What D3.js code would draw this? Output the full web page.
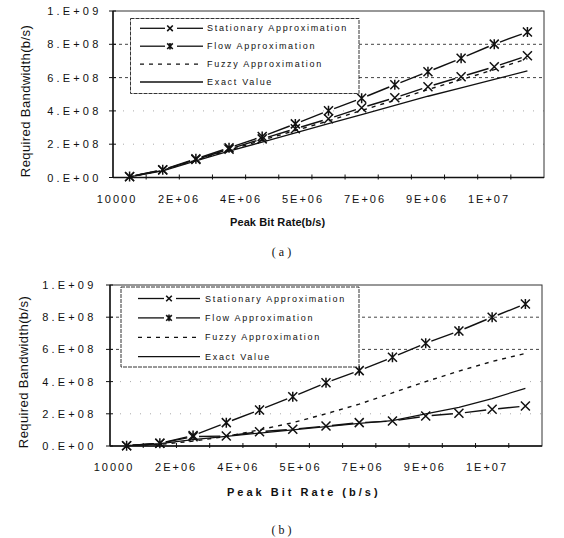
<!DOCTYPE html>
<html><head><meta charset="utf-8">
<script src="https://cdn.jsdelivr.net/npm/d3@7"></script>
<style>body{margin:0;background:#fff}</style>
</head><body>
<svg id="chart" width="564" height="538"></svg>
<script>
// ---- data ----
const categories = [1, 2, 3, 4, 5, 6, 7, 8, 9, 10, 11, 12, 13];
const xTickLabels = ["10000", "2E+06", "4E+06", "5E+06", "7E+06", "9E+06", "1E+07"];
const yTickValues = [0, 2e8, 4e8, 6e8, 8e8, 1e9];
const yTickLabels = ["0.E+00", "2.E+08", "4.E+08", "6.E+08", "8.E+08", "1.E+09"];
const seriesNames = ["Stationary Approximation", "Flow Approximation", "Fuzzy Approximation", "Exact Value"];

// panel (a)
const stationaryA = [5e6, 4.5e7, 1.08e8, 1.70e8, 2.32e8, 2.93e8, 3.53e8, 4.19e8, 4.79e8, 5.45e8, 6.05e8, 6.65e8, 7.31e8];
const flowA       = [6e6, 4.6e7, 1.12e8, 1.78e8, 2.46e8, 3.22e8, 4.01e8, 4.76e8, 5.57e8, 6.35e8, 7.16e8, 8.01e8, 8.74e8];
const fuzzyA      = [5e6, 4.3e7, 1.04e8, 1.64e8, 2.24e8, 2.82e8, 3.40e8, 4.03e8, 4.64e8, 5.28e8, 5.88e8, 6.48e8, 7.14e8];
const exactA      = [4e6, 4.0e7, 1.00e8, 1.58e8, 2.13e8, 2.68e8, 3.23e8, 3.78e8, 4.33e8, 4.88e8, 5.38e8, 5.90e8, 6.40e8];
// panel (b)
const stationaryB = [2e6, 1.7e7, 5.8e7, 6.2e7, 8.9e7, 1.04e8, 1.24e8, 1.45e8, 1.55e8, 1.86e8, 2.03e8, 2.28e8, 2.48e8];
const flowB       = [2e6, 1.7e7, 6.5e7, 1.45e8, 2.24e8, 3.06e8, 3.93e8, 4.68e8, 5.51e8, 6.38e8, 7.14e8, 8.00e8, 8.82e8];
const fuzzyB      = [2e6, 1.0e7, 3.0e7, 6.0e7, 1.00e8, 1.45e8, 2.00e8, 2.60e8, 3.30e8, 4.00e8, 4.65e8, 5.25e8, 5.75e8];
const exactB      = [2e6, 1.5e7, 4.0e7, 6.0e7, 8.0e7, 1.00e8, 1.20e8, 1.40e8, 1.58e8, 2.00e8, 2.40e8, 2.95e8, 3.58e8];

// ---- drawing ----
const svg = d3.select("#chart");
const FONT = "'Liberation Sans', Arial, sans-serif";
const INK = "#111";

const panels = [
  { left: 113, right: 544, top: 11, bottom: 177.5,
    yLabelX: 101.5, yTitleX: 25, yTitleY: 101,
    xTickY: 198.5, xTitle: "Peak Bit Rate(b/s)", xTitleX: 230, xTitleY: 222, xTitleLS: 0.1,
    caption: "(a)", captionY: 252,
    series: [stationaryA, flowA, fuzzyA, exactA],
    legend: { x0: 130.5, y0: 18.5, x1: 359, y1: 93.5, r0: 28.3, r1: 82, lx0: 140, lx1: 203, mx: 170, tx: 207 } },
  { left: 110, right: 542, top: 285, bottom: 446,
    yLabelX: 96.5, yTitleX: 23, yTitleY: 372,
    xTickY: 467, xTitle: "Peak Bit Rate (b/s)", xTitleX: 227, xTitleY: 492, xTitleLS: 3.0,
    caption: "(b)", captionY: 530,
    series: [stationaryB, flowB, fuzzyB, exactB],
    legend: { x0: 121, y0: 287, x1: 359, y1: 367, r0: 298.5, r1: 356.7, lx0: 138, lx1: 200, mx: 169, tx: 205 } }
];

function drawX(g, x, y, h, sw) {
  g.append("path").attr("d", `M${x-h},${y-h}L${x+h},${y+h}M${x-h},${y+h}L${x+h},${y-h}`)
    .attr("stroke", INK).attr("stroke-width", sw).attr("fill", "none");
}
function drawStar(g, x, y, h, sw) {
  g.append("path").attr("d", `M${x-h},${y-h}L${x+h},${y+h}M${x-h},${y+h}L${x+h},${y-h}M${x},${y-h-0.5}L${x},${y+h+0.5}`)
    .attr("stroke", INK).attr("stroke-width", sw).attr("fill", "none");
}
const markerFns = [drawX, drawStar, null, null];

panels.forEach(p => {
  const g = svg.append("g");
  const x = d3.scaleBand().domain(categories).range([p.left, p.right]);
  const xc = d => x(d) + x.bandwidth() / 2;
  const y = d3.scaleLinear().domain([0, 1e9]).range([p.bottom, p.top]);
  const xLab = d3.scalePoint().domain(xTickLabels).range([p.left + 4, p.right - 55]);

  // gridlines
  yTickValues.filter(v => v > 0 && v < 1e9).forEach(v => {
    const strong = v >= 6e8;
    g.append("line").attr("x1", p.left).attr("x2", p.right).attr("y1", y(v)).attr("y2", y(v))
      .attr("stroke", strong ? "#444" : "#aaa").attr("stroke-width", 1)
      .attr("stroke-dasharray", strong ? "3,3" : "1,9");
  });

  // frame
  g.append("rect").attr("x", p.left).attr("y", p.top).attr("width", p.right - p.left).attr("height", p.bottom - p.top)
    .attr("fill", "none").attr("stroke", "#333").attr("stroke-width", 1);
  g.append("line").attr("x1", p.left).attr("x2", p.left).attr("y1", p.top).attr("y2", p.bottom).attr("stroke", INK).attr("stroke-width", 1.4);
  g.append("line").attr("x1", p.left).attr("x2", p.right).attr("y1", p.bottom).attr("y2", p.bottom).attr("stroke", INK).attr("stroke-width", 1.4);

  // y ticks & labels
  yTickValues.forEach((v, i) => {
    g.append("line").attr("x1", p.left - 4).attr("x2", p.left + 3).attr("y1", y(v)).attr("y2", y(v))
      .attr("stroke", INK).attr("stroke-width", 1);
    g.append("text").attr("x", p.yLabelX).attr("y", y(v)).attr("text-anchor", "end")
      .attr("dominant-baseline", "central").attr("font-family", FONT).attr("font-size", 11)
      .attr("letter-spacing", 3.2).attr("fill", INK).text(yTickLabels[i]);
  });
  // x ticks at category boundaries
  categories.forEach(c => {
    const bx = x(c);
    if (bx > p.left + 1) {
      g.append("line").attr("x1", bx).attr("x2", bx).attr("y1", p.bottom - 3).attr("y2", p.bottom + 2)
        .attr("stroke", INK).attr("stroke-width", 1);
    }
  });
  xTickLabels.forEach(l => {
    g.append("text").attr("x", xLab(l)).attr("y", p.xTickY).attr("text-anchor", "middle")
      .attr("dominant-baseline", "central").attr("font-family", FONT).attr("font-size", 11)
      .attr("letter-spacing", 2).attr("fill", INK).text(l);
  });

  // axis titles
  g.append("text").attr("x", p.xTitleX).attr("y", p.xTitleY).attr("text-anchor", "start")
    .attr("dominant-baseline", "central").attr("font-family", FONT).attr("font-size", 11).attr("font-weight", "bold")
    .attr("letter-spacing", p.xTitleLS).attr("fill", INK).text(p.xTitle);
  g.append("text").attr("transform", `translate(${p.yTitleX},${p.yTitleY}) rotate(-90)`).attr("text-anchor", "middle")
    .attr("dominant-baseline", "central").attr("font-family", FONT).attr("font-size", 13)
    .attr("letter-spacing", 0.4).attr("fill", INK).text("Required Bandwidth(b/s)");
  g.append("text").attr("x", 283).attr("y", p.captionY).attr("text-anchor", "middle")
    .attr("dominant-baseline", "central").attr("font-family", "'Liberation Serif', 'Times New Roman', serif")
    .attr("font-size", 12).attr("letter-spacing", 3).attr("fill", INK).text(p.caption);

  // series
  const line = d3.line().x((d, i) => xc(categories[i])).y(d => y(d));
  p.series.forEach((vals, si) => {
    if (si === 2) {
      g.append("path").attr("d", line(vals)).attr("fill", "none").attr("stroke", INK)
        .attr("stroke-width", 1.4).attr("stroke-dasharray", "4,5");
    } else if (si === 3) {
      g.append("path").attr("d", line(vals)).attr("fill", "none").attr("stroke", INK).attr("stroke-width", 1.3);
    } else {
      const pts = vals.map((v, i) => [xc(categories[i]), y(v)]);
      const gap = 6;
      for (let i = 0; i < pts.length - 1; i++) {
        const [x0, y0] = pts[i], [x1, y1] = pts[i + 1];
        const len = Math.hypot(x1 - x0, y1 - y0);
        if (len <= 2 * gap) continue;
        const ux = (x1 - x0) / len, uy = (y1 - y0) / len;
        g.append("line").attr("x1", x0 + ux * gap).attr("y1", y0 + uy * gap)
          .attr("x2", x1 - ux * gap).attr("y2", y1 - uy * gap)
          .attr("stroke", INK).attr("stroke-width", 1.4);
      }
      pts.forEach(([px, py]) => markerFns[si](g, px, py, 4.5, 1.5));
    }
  });

  // legend
  const L = p.legend;
  g.append("rect").attr("x", L.x0).attr("y", L.y0).attr("width", L.x1 - L.x0).attr("height", L.y1 - L.y0)
    .attr("fill", "#fff").attr("stroke", "#333").attr("stroke-width", 1).attr("stroke-dasharray", "4,1");
  const ly = d3.scalePoint().domain(seriesNames).range([L.r0, L.r1]);
  seriesNames.forEach((name, si) => {
    const yy = ly(name);
    if (si < 2) {
      g.append("line").attr("x1", L.lx0).attr("x2", L.mx - 5).attr("y1", yy).attr("y2", yy).attr("stroke", INK).attr("stroke-width", 1.3);
      g.append("line").attr("x1", L.mx + 7).attr("x2", L.lx1).attr("y1", yy).attr("y2", yy).attr("stroke", INK).attr("stroke-width", 1.3);
      markerFns[si](g, L.mx, yy, 2.8, 1.6);
    } else {
      g.append("line").attr("x1", L.lx0).attr("x2", L.lx1).attr("y1", yy).attr("y2", yy).attr("stroke", INK)
        .attr("stroke-width", 1.3).attr("stroke-dasharray", si === 2 ? "4,5" : null);
    }
    g.append("text").attr("x", L.tx).attr("y", yy).attr("dominant-baseline", "central")
      .attr("font-family", FONT).attr("font-size", 9).attr("letter-spacing", 1.7).attr("fill", INK).text(name);
  });
});
</script>
</body></html>
